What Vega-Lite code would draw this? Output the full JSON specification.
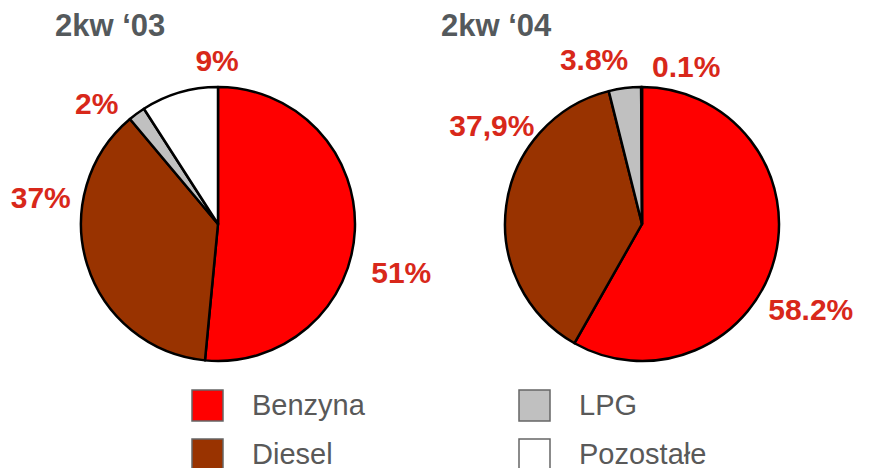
{
  "$schema": "https://vega.github.io/schema/vega-lite/v6.json",
  "width": 860,
  "height": 448,
  "autosize": {"type": "none"},
  "padding": {"left": 0, "top": 0, "right": 14, "bottom": 20},
  "background": "#ffffff",
  "data": {
    "values": [
      {"year": "2kw ‘03", "category": "Benzyna", "rank": 1, "value": 51, "label": "51%"},
      {"year": "2kw ‘03", "category": "Diesel", "rank": 2, "value": 37, "label": "37%"},
      {"year": "2kw ‘03", "category": "LPG", "rank": 3, "value": 2, "label": "2%"},
      {"year": "2kw ‘03", "category": "Pozostałe", "rank": 4, "value": 9, "label": "9%"},
      {"year": "2kw ‘04", "category": "Benzyna", "rank": 1, "value": 58.2, "label": "58.2%"},
      {"year": "2kw ‘04", "category": "Diesel", "rank": 2, "value": 37.9, "label": "37,9%"},
      {"year": "2kw ‘04", "category": "LPG", "rank": 3, "value": 3.8, "label": "3.8%"},
      {"year": "2kw ‘04", "category": "Pozostałe", "rank": 4, "value": 0.1, "label": "0.1%"}
    ]
  },
  "layer": [
    {
      "transform": [{"filter": {"field": "year", "equal": "2kw ‘03"}}],
      "encoding": {
        "x": {"field": "year", "type": "nominal", "axis": null, "scale": {"type": "point", "domain": ["2kw ‘03", "2kw ‘04"], "padding": 0.51415}},
        "theta": {"field": "value", "type": "quantitative", "stack": "normalize", "scale": {"type": "linear"}},
        "order": {"field": "rank", "type": "quantitative", "sort": "ascending"}
      },
      "layer": [
        {
          "mark": {"type": "arc", "radius": 137, "stroke": "#000000", "strokeWidth": 2.5, "strokeJoin": "round"},
          "encoding": {
            "color": {
              "field": "category", "type": "nominal",
              "scale": {"domain": ["Benzyna", "Diesel", "LPG", "Pozostałe"], "range": ["#ff0000", "#993300", "#c0c0c0", "#ffffff"]},
              "legend": {
                "orient": "none", "legendX": 191, "legendY": 389, "columns": 2, "title": null,
                "symbolType": "square", "symbolSize": 961, "labelFontSize": 29, "labelFont": "Liberation Sans",
                "labelColor": "#595959", "labelOffset": 28, "columnPadding": 151, "rowPadding": 12,
                "symbolStrokeColor": "#666666", "symbolStrokeWidth": 1.5,
                "encode": {"symbols": {"update": {"stroke": {"value": "#666666"}, "strokeWidth": {"value": 1.5}}}}
              }
            }
          }
        },
        {
          "mark": {"type": "text", "fontSize": 30, "fontWeight": "bold", "font": "Liberation Sans", "color": "#d8281a",
            "radius": {"expr": "datum.category === 'Benzyna' ? 190 : datum.category === 'Diesel' ? 179 : datum.category === 'LPG' ? 170 : 162"},
            "thetaOffset": {"expr": "datum.category === 'Benzyna' ? 0.22 : datum.category === 'Diesel' ? 0.44 : datum.category === 'LPG' ? -0.16 : 0.28"}},
          "encoding": {"text": {"field": "label"}, "detail": {"field": "category"}}
        }
      ]
    },
    {
      "transform": [{"filter": {"field": "year", "equal": "2kw ‘04"}}],
      "encoding": {
        "x": {"field": "year", "type": "nominal", "axis": null, "scale": {"type": "point", "domain": ["2kw ‘03", "2kw ‘04"], "padding": 0.51415}},
        "theta": {"field": "value", "type": "quantitative", "stack": "normalize", "scale": {"type": "linear"}},
        "order": {"field": "rank", "type": "quantitative", "sort": "ascending"}
      },
      "layer": [
        {
          "mark": {"type": "arc", "radius": 137, "stroke": "#000000", "strokeWidth": 2.5, "strokeJoin": "round"},
          "encoding": {
            "color": {"field": "category", "type": "nominal"}
          }
        },
        {
          "mark": {"type": "text", "fontSize": 30, "fontWeight": "bold", "font": "Liberation Sans", "color": "#d8281a",
            "radius": {"expr": "datum.category === 'Benzyna' ? 190 : datum.category === 'Diesel' ? 179 : datum.category === 'LPG' ? 170 : 162"},
            "thetaOffset": {"expr": "datum.category === 'Benzyna' ? 0.22 : datum.category === 'Diesel' ? 0.44 : datum.category === 'LPG' ? -0.16 : 0.28"}},
          "encoding": {"text": {"field": "label"}, "detail": {"field": "category"}}
        }
      ]
    },
    {
      "transform": [{"filter": {"field": "rank", "equal": 1}}],
      "mark": {"type": "text", "align": "left", "baseline": "alphabetic", "dx": -182, "dy": -188, "fontSize": 31, "fontWeight": "bold", "font": "Liberation Sans", "color": "#54595c"},
      "encoding": {
        "x": {"field": "year", "type": "nominal", "axis": null, "scale": {"type": "point", "domain": ["2kw ‘03", "2kw ‘04"], "padding": 0.614}},
        "text": {"field": "year"}
      }
    }
  ],
  "resolve": {"scale": {"x": "independent"}},
  "config": {"view": {"stroke": null}}
}
